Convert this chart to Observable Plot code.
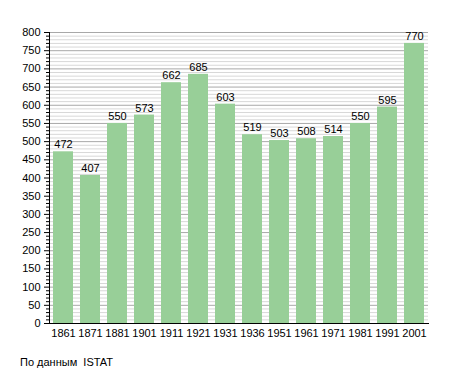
<!DOCTYPE html>
<html><head><meta charset="utf-8">
<script src="https://cdn.jsdelivr.net/npm/d3@7"></script>
<script src="https://cdn.jsdelivr.net/npm/@observablehq/plot@0.6"></script>
<style>
body{margin:0;background:#fff;font-family:"Liberation Sans",Arial,sans-serif;}
#wrap{position:relative;width:455px;height:373px;}
#cap{position:absolute;left:20px;top:356px;font-size:11px;color:#000;}
</style>
</head><body>
<div id="wrap"><div id="chart"></div><div id="cap">По данным&nbsp; ISTAT</div></div>
<script>
const years = ["1861","1871","1881","1901","1911","1921","1931","1936","1951","1961","1971","1981","1991","2001"];
const population = [472,407,550,573,662,685,603,519,503,508,514,550,595,770];
const majorTicks = d3.range(0, 801, 50);
const minorTicks = d3.range(0, 801, 10).filter(v => v % 50 !== 0);

const data = years.map((y, i) => ({year: y, value: population[i]}));

const chart = Plot.plot({
  width: 455,
  height: 343,
  marginLeft: 49,
  marginRight: 27,
  marginTop: 32,
  marginBottom: 20,
  style: {fontFamily: "Liberation Sans, Arial, sans-serif", fontSize: "11px", color: "#000", background: "#fff"},
  x: {domain: years, paddingInner: 0.27, paddingOuter: 0.11, label: null},
  y: {domain: [0, 800], label: null},
  marks: [
    Plot.ruleY(minorTicks, {stroke: "#d8d8d8", strokeWidth: 1}),
    Plot.ruleY(majorTicks, {stroke: "#a8a8a8", strokeWidth: 1}),
    Plot.barY(data, {x: "year", y: "value", fill: "#98cf98"}),
    Plot.text(data, {x: "year", y: "value", text: d => String(d.value), dy: -7, fontSize: 11, fill: "#000"}),
    Plot.axisY(majorTicks, {tickSize: 5, tickPadding: 4, fontSize: 11, label: null, stroke: "#000"}),
    Plot.axisY(minorTicks, {tickSize: 3, text: null, label: null, stroke: "#000"}),
    Plot.axisX({tickSize: 0, tickPadding: 6, fontSize: 11, label: null}),
    Plot.frame({anchor: "left", stroke: "#000"}),
    Plot.frame({anchor: "bottom", stroke: "#000"})
  ]
});
document.getElementById("chart").appendChild(chart);
</script>
</body></html>
